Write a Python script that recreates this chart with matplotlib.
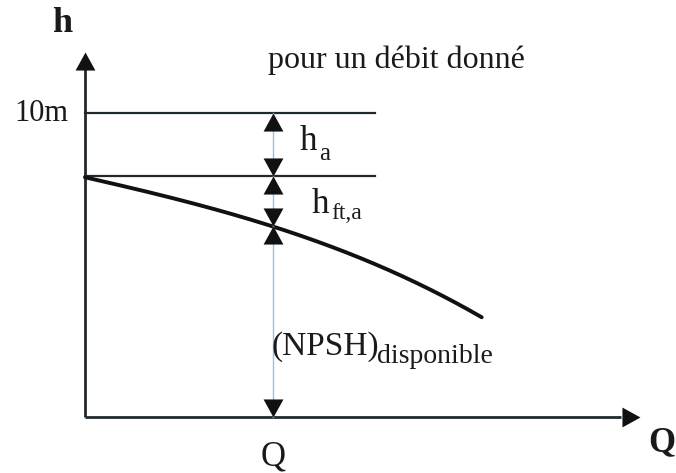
import matplotlib
matplotlib.use("Agg")
import matplotlib.pyplot as plt
import numpy as np

# ---- data (Q in units of the operating flow, h in metres) ----
h_atm = 10.0            # 10 m line (atmospheric head)
h_level2 = 7.93         # second horizontal level (start of the curve)
Q_op = 1.0              # operating flow "Q"
line_end_Q = 1.54       # extent of horizontal lines
curve_Q = [0.0, 0.52, 1.0, 1.53, 1.80, 2.11]
curve_h = [7.89, 7.10, 6.28, 5.07, 4.28, 3.29]
axis_Q_max = 2.95
axis_h_max = 12.0
h_at_Q = 6.28

plt.rcParams['font.family'] = ['Liberation Serif', 'DejaVu Serif']

fig = plt.figure(figsize=(6.76, 4.73), dpi=100)
ax = fig.add_axes([0, 0, 1, 1])
ax.set_xlim(-85 / 188, (676 - 85) / 188)
ax.set_ylim((417 - 473) / 30.4, 417 / 30.4)
ax.axis('off')

dark = '#1e2a30'
txt = '#1a1a1a'

# axes
ax.plot([0, axis_Q_max - 0.1], [0, 0], color=dark, lw=2.0, solid_capstyle='butt')
ax.plot([0, 0], [0, axis_h_max - 0.5], color=dark, lw=2.0, solid_capstyle='butt')

up = [(0, 0), (-0.55, -1), (0.55, -1)]
down = [(0, 0), (-0.55, 1), (0.55, 1)]
right = [(0, 0), (-1, -0.55), (-1, 0.55)]
ms = 26
ax.plot([0], [axis_h_max], marker=up, ms=ms, color='#111', mew=0)
ax.plot([axis_Q_max], [0], marker=right, ms=ms, color='#111', mew=0)

# horizontal levels
ax.plot([0, line_end_Q], [h_atm, h_atm], color=dark, lw=1.6)
ax.plot([0, line_end_Q], [h_level2, h_level2], color=dark, lw=1.6)

# curve
cq = np.array(curve_Q)
ch = np.array(curve_h)
coef = np.polyfit(cq, ch, 3)
qq = np.linspace(cq[0], cq[-1], 200)
ax.plot(qq, np.polyval(coef, qq), color='#111', lw=2.8, solid_capstyle='round')

# vertical thin line at Q
ax.plot([Q_op, Q_op], [0, h_atm], color='#a9bccd', lw=1.0)

# dimension triangles
ax.plot([Q_op], [h_atm], marker=up, ms=ms, color='#111', mew=0)
ax.plot([Q_op], [h_level2], marker=down, ms=ms, color='#111', mew=0)
ax.plot([Q_op], [h_level2], marker=up, ms=ms, color='#111', mew=0)
ax.plot([Q_op], [h_at_Q], marker=down, ms=ms, color='#111', mew=0)
ax.plot([Q_op], [h_at_Q], marker=up, ms=ms, color='#111', mew=0)
ax.plot([Q_op], [0], marker=down, ms=ms, color='#111', mew=0)

# texts
ax.text(-0.122, 12.95, 'h', fontsize=26, fontweight='bold', color=txt, ha='center', va='center')
ax.text(3.07, -0.85, 'Q', fontsize=25, fontweight='bold', color=txt, ha='center', va='center')
ax.text(0.973, 11.72, 'pour un débit donné', fontsize=23, color=txt, ha='left', va='center')
ax.text(-0.09, 10.0, '10m', fontsize=22, color=txt, ha='right', va='center')
ax.text(Q_op, -1.3, 'Q', fontsize=25, color=txt, ha='center', va='center')

ax.text(1.144, 8.78, 'h', fontsize=25, color=txt, ha='left', va='baseline')
ax.text(1.245, 8.45, 'a', fontsize=18, color=txt, ha='left', va='baseline')
ax.text(1.207, 6.71, 'h', fontsize=25, color=txt, ha='left', va='baseline')
ax.text(1.31, 6.51, 'ft,a', fontsize=17, color=txt, ha='left', va='baseline')
ax.text(0.99, 2.04, '(NPSH)', fontsize=24, color=txt, ha='left', va='baseline')
ax.text(1.553, 1.78, 'disponible', fontsize=20, color=txt, ha='left', va='baseline')

fig.savefig('out.png', dpi=100)
